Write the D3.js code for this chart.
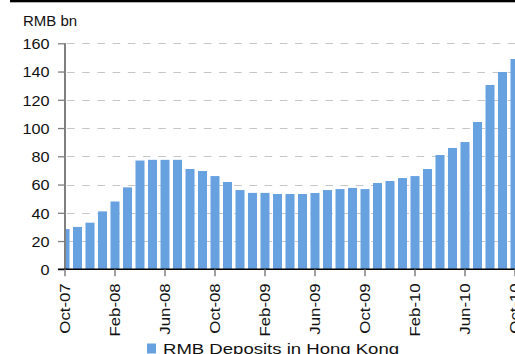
<!DOCTYPE html>
<html>
<head>
<meta charset="utf-8">
<script src="https://cdn.jsdelivr.net/npm/d3@7"></script>
<style>
  html, body { margin: 0; padding: 0; background: #fff; overflow: hidden; }
  svg { display: block; font-family: "Liberation Sans", Arial, sans-serif; }
</style>
</head>
<body>
<svg id="chart" width="515" height="354"></svg>
<script>
// Monthly RMB deposits in Hong Kong, Oct-07 to Oct-10 (RMB bn)
const months = [
  "Oct-07","Nov-07","Dec-07","Jan-08","Feb-08","Mar-08","Apr-08","May-08","Jun-08",
  "Jul-08","Aug-08","Sep-08","Oct-08","Nov-08","Dec-08","Jan-09","Feb-09","Mar-09",
  "Apr-09","May-09","Jun-09","Jul-09","Aug-09","Sep-09","Oct-09","Nov-09","Dec-09",
  "Jan-10","Feb-10","Mar-10","Apr-10","May-10","Jun-10","Jul-10","Aug-10","Sep-10","Oct-10"
];
const deposits = [
  28.5, 30, 33, 41, 48, 58, 77, 77.5, 77.5,
  77.5, 71, 69.6, 66, 61.8, 56.1, 54.1, 54.1, 53.3,
  53.3, 53.3, 54, 56.1, 56.8, 57.6, 56.8, 61.1, 62.5,
  64.6, 66, 71, 80.9, 85.9, 90.1, 104.3, 130.5, 139.7, 148.9
];
const yTicks = [0, 20, 40, 60, 80, 100, 120, 140, 160];
const labelEvery = 4;
const seriesName = "RMB Deposits in Hong Kong";
const unitLabel = "RMB bn";

const svg = d3.select("#chart");
const barColor = "#67a1e0";
const plotLeft = 65, plotTop = 43.3, plotBottom = 269.3, step = 12.5;

const x = d3.scaleBand()
  .domain(months)
  .range([plotLeft - step / 2, plotLeft - step / 2 + months.length * step])
  .paddingInner(0.28)
  .paddingOuter(0.14);

const y = d3.scaleLinear().domain([0, 160]).range([plotBottom, plotTop]);

// top rule
svg.append("rect").attr("x", 10).attr("y", 0).attr("width", 505).attr("height", 2.3).attr("fill", "#000");

// unit label
svg.append("text").attr("x", 23).attr("y", 25.5)
  .attr("font-size", 15).attr("fill", "#111").text(unitLabel);

// gridlines
svg.append("g").selectAll("line")
  .data(yTicks.filter(d => d > 0))
  .join("line")
  .attr("x1", plotLeft + 2).attr("x2", 520)
  .attr("y1", d => Math.round(y(d)) + 0.5).attr("y2", d => Math.round(y(d)) + 0.5)
  .attr("stroke", "#c6c6c6").attr("stroke-width", 1.2)
  .attr("stroke-dasharray", "7.6,7.6");

// clip bars to the plot area
svg.append("defs").append("clipPath").attr("id", "plotClip")
  .append("rect").attr("x", plotLeft).attr("y", 0).attr("width", 600).attr("height", plotBottom);

svg.append("g").attr("clip-path", "url(#plotClip)")
  .selectAll("rect")
  .data(months.map((m, i) => ({ m, v: deposits[i] })))
  .join("rect")
  .attr("x", d => x(d.m))
  .attr("width", x.bandwidth())
  .attr("y", d => y(d.v))
  .attr("height", d => y(0) - y(d.v))
  .attr("fill", barColor);

// y axis
const yAxis = d3.axisLeft(y).tickValues(yTicks).tickSize(7).tickPadding(8);
const gy = svg.append("g").attr("transform", `translate(${plotLeft},0)`).call(yAxis);
gy.select(".domain").attr("stroke", "#7f7f7f").attr("stroke-width", 2)
  .attr("d", `M0,${plotTop}V${plotBottom}`);
gy.selectAll(".tick line").attr("stroke", "#7f7f7f").attr("stroke-width", 1.3);
gy.selectAll(".tick text")
  .attr("font-size", 14.5).attr("fill", "#111")
  .attr("font-family", "Liberation Sans, Arial, sans-serif")
  .attr("x", null).attr("dy", null)
  .attr("transform", "translate(-15.5,5.2) scale(1.12,1)");

// x axis
const xAxis = d3.axisBottom(x)
  .tickValues(months.filter((m, i) => i % labelEvery === 0))
  .tickSize(7).tickSizeOuter(0);
const gx = svg.append("g").attr("transform", `translate(0,${plotBottom})`).call(xAxis);
gx.select(".domain").attr("stroke", "#000").attr("stroke-width", 1.5)
  .attr("d", `M${plotLeft - 7},0H520`);
gx.selectAll(".tick line").attr("stroke", "#7f7f7f").attr("stroke-width", 1.5);
gx.selectAll(".tick text")
  .attr("font-size", 14).attr("fill", "#111")
  .attr("font-family", "Liberation Sans, Arial, sans-serif")
  .attr("text-anchor", "end")
  .attr("x", null).attr("y", null).attr("dy", null)
  .attr("transform", "translate(5,14) rotate(-90) scale(1.2,1)");

// legend
const legend = svg.append("g");
legend.append("rect").attr("x", 147).attr("y", 343.5).attr("width", 9).attr("height", 10).attr("fill", barColor);
legend.append("text").attr("x", 0).attr("y", 0)
  .attr("font-size", 14.5).attr("fill", "#111")
  .attr("transform", "translate(163,354) scale(1.28,1)")
  .text(seriesName);
</script>
</body>
</html>
